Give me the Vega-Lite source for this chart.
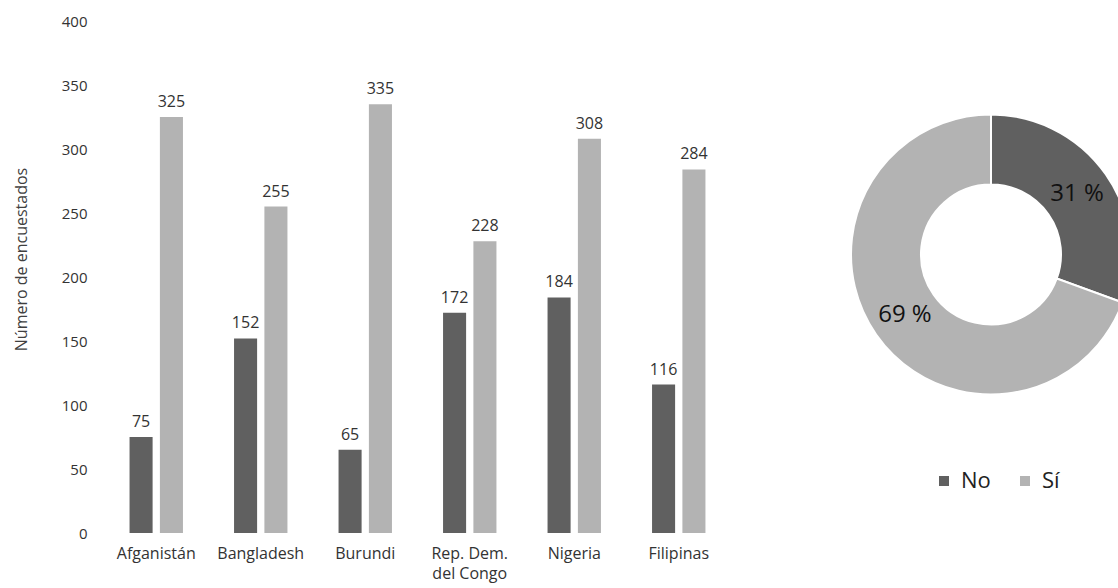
{
  "$schema": "https://vega.github.io/schema/vega-lite/v6.json",
  "padding": {"left": 13, "top": 14, "right": 0, "bottom": 5},
  "background": "white",
  "bounds": "flush",
  "spacing": 120,
  "resolve": {"scale": {"color": "independent"}, "legend": {"color": "independent"}},
  "config": {"font": "Open Sans", "view": {"stroke": null}},
  "data": {
    "values": [
      {"country": "Afganistán", "answer": "No", "value": 75},
      {"country": "Afganistán", "answer": "Sí", "value": 325},
      {"country": "Bangladesh", "answer": "No", "value": 152},
      {"country": "Bangladesh", "answer": "Sí", "value": 255},
      {"country": "Burundi", "answer": "No", "value": 65},
      {"country": "Burundi", "answer": "Sí", "value": 335},
      {"country": "Rep. Dem. del Congo", "answer": "No", "value": 172},
      {"country": "Rep. Dem. del Congo", "answer": "Sí", "value": 228},
      {"country": "Nigeria", "answer": "No", "value": 184},
      {"country": "Nigeria", "answer": "Sí", "value": 308},
      {"country": "Filipinas", "answer": "No", "value": 116},
      {"country": "Filipinas", "answer": "Sí", "value": 284}
    ]
  },
  "hconcat": [
    {
      "width": 627,
      "height": 512,
      "encoding": {
        "x": {
          "field": "country", "type": "nominal", "sort": null,
          "scale": {"paddingInner": 0.489, "paddingOuter": 0.2445},
          "axis": {
            "title": null, "domain": false, "ticks": false, "labelAngle": 0,
            "labelFontSize": 16, "labelColor": "#333333", "labelPadding": 12,
            "labelLineHeight": 20,
            "labelExpr": "datum.value == 'Rep. Dem. del Congo' ? ['Rep. Dem.', 'del Congo'] : datum.value"
          }
        },
        "xOffset": {"field": "answer", "type": "nominal", "scale": {"paddingInner": 0.24, "paddingOuter": 0}},
        "y": {
          "field": "value", "type": "quantitative",
          "scale": {"domain": [0, 400], "nice": false},
          "axis": {
            "values": [0, 50, 100, 150, 200, 250, 300, 350, 400],
            "domain": false, "ticks": false, "grid": false,
            "labelFontSize": 15, "labelColor": "#333333", "labelPadding": 17,
            "title": "Número de encuestados", "titleFontSize": 16, "titleY": 238,
            "titleFontWeight": "normal", "titleColor": "#404040", "titlePadding": 32
          }
        },
        "color": {
          "field": "answer", "type": "nominal",
          "scale": {"domain": ["No", "Sí"], "range": ["#606060", "#b3b3b3"]},
          "legend": null
        }
      },
      "layer": [
        {"mark": {"type": "bar"}},
        {
          "mark": {"type": "text", "dy": -10, "baseline": "alphabetic", "fontSize": 16, "fill": "#333333"},
          "encoding": {"text": {"field": "value", "type": "quantitative"}, "color": {"value": "#333333"}}
        }
      ]
    },
    {
      "width": 280,
      "height": 467,
      "layer": [
        {
          "mark": {"type": "arc", "innerRadius": 70, "outerRadius": 140, "stroke": "white", "strokeWidth": 2},
          "encoding": {
            "theta": {"aggregate": "sum", "field": "value", "type": "quantitative", "stack": true},
            "color": {
              "field": "answer", "type": "nominal",
              "scale": {"domain": ["No", "Sí"], "range": ["#606060", "#b3b3b3"]},
              "legend": {
                "orient": "none", "legendX": 82, "legendY": 449, "direction": "horizontal",
                "title": null, "symbolType": "square", "symbolSize": 100, "symbolStrokeWidth": 0,
                "labelFontSize": 22, "labelColor": "#222222", "columnPadding": 23, "labelOffset": 6
              }
            }
          }
        },
        {
          "transform": [
            {"aggregate": [{"op": "sum", "field": "value", "as": "total"}], "groupby": ["answer"]},
            {"joinaggregate": [{"op": "sum", "field": "total", "as": "grand"}]},
            {"calculate": "round(datum.total / datum.grand * 100) + ' %'", "as": "label"}
          ],
          "mark": {"type": "text", "radius": 105, "fontSize": 24, "fill": "#111111"},
          "encoding": {
            "theta": {"field": "total", "type": "quantitative", "stack": true},
            "detail": {"field": "answer", "type": "nominal"},
            "text": {"field": "label", "type": "nominal"}
          }
        }
      ]
    }
  ]
}
